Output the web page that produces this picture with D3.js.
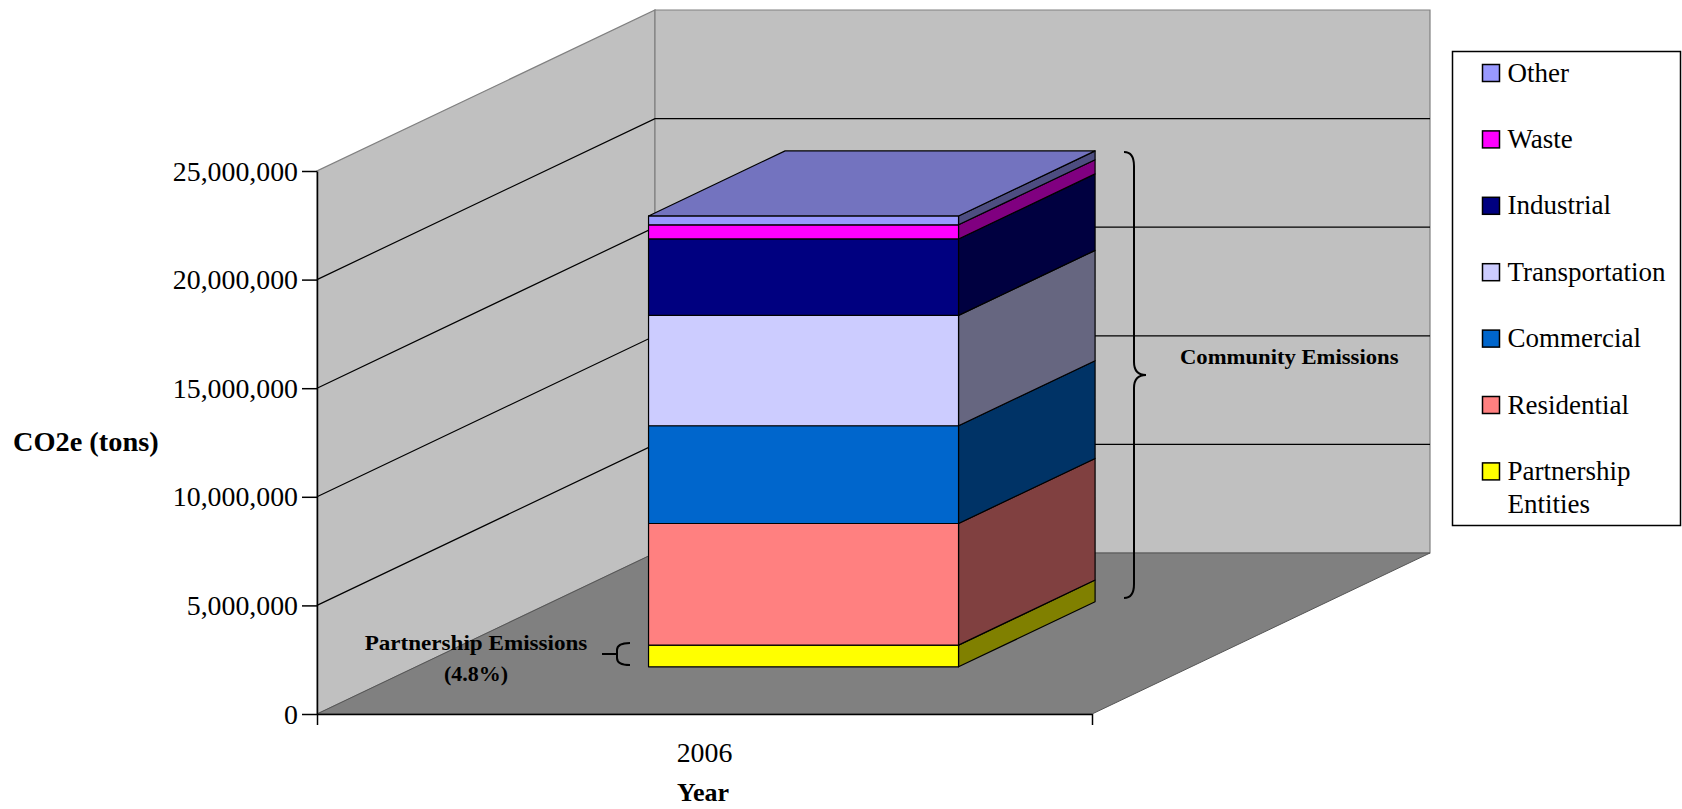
<!DOCTYPE html>
<html><head><meta charset="utf-8">
<script src="https://cdn.jsdelivr.net/npm/d3@7"></script>
<style>
body{margin:0;background:#fff}
svg{display:block}
text{font-family:"Liberation Serif","Times New Roman",serif;fill:#000}
</style>
</head><body>
<svg id="c" width="1682" height="809"></svg>
<script>
// ---- data ----
const categories = ["2006"];
const seriesNames = ["Partnership Entities","Residential","Commercial","Transportation","Industrial","Waste","Other"];
const seriesValues = [1000000, 5600000, 4500000, 5080000, 3520000, 650000, 410000];
const seriesColors = ["#ffff00","#ff8080","#0066cc","#ccccff","#000080","#ff00ff","#9999ff"];
const yTicks = [0, 5000000, 10000000, 15000000, 20000000, 25000000];
const legendOrder = ["Other","Waste","Industrial","Transportation","Commercial","Residential","Partnership Entities"];
const legendLines = {"Partnership Entities":["Partnership","Entities"]};
const yTitle = "CO2e (tons)";
const xTitle = "Year";
const communityLabel = "Community Emissions";
const partnershipLabel = ["Partnership Emissions","(4.8%)"];

// ---- layout ----
const svg = d3.select("#c");
const X0 = 317, X1 = 1092;
const DX = 338, DY = -161;          // depth offset of the back wall
const barDepth = [0.293, 0.697];    // bar front/back as fraction of depth

const y = d3.scaleLinear().domain([0, 25000000]).range([714, 171]);
const x = d3.scaleBand().domain(categories).range([X0, X1]).paddingInner(0).paddingOuter(0.75);
const P = (px, py, d) => [px + d * DX, py + d * DY];
const poly = pts => "M" + pts.map(p => p.join(",")).join("L") + "Z";
const shade = (c, k) => { const r = d3.rgb(c); return d3.rgb(r.r * k, r.g * k, r.b * k).formatHex(); };
const fit = (sel, f) => sel.each(function(){ const w = this.getComputedTextLength(); d3.select(this).attr("textLength", w * f).attr("lengthAdjust", "spacingAndGlyphs"); });

const yMax = y.domain()[1];
// walls
svg.append("path").attr("d", poly([P(X0,y(0),0),P(X0,y(yMax),0),P(X0,y(yMax),1),P(X0,y(0),1)]))
  .attr("fill","#c0c0c0").attr("stroke","#808080").attr("stroke-width",1.2);
svg.append("path").attr("d", poly([P(X0,y(yMax),1),P(X1,y(yMax),1),P(X1,y(0),1),P(X0,y(0),1)]))
  .attr("fill","#c0c0c0").attr("stroke","#808080").attr("stroke-width",1.2);
// floor
svg.append("path").attr("d", poly([P(X0,y(0),0),P(X1,y(0),0),P(X1,y(0),1),P(X0,y(0),1)]))
  .attr("fill","#808080").attr("stroke","#555").attr("stroke-width",1);
// gridlines
svg.append("g").selectAll("path").data(yTicks.filter(t => t > 0 && t < yMax)).join("path")
  .attr("d", t => "M" + [P(X0,y(t),0),P(X0,y(t),1),P(X1,y(t),1)].map(p=>p.join(",")).join("L"))
  .attr("fill","none").attr("stroke","#000").attr("stroke-width",1.2);

// bar
const row = {cat: categories[0]};
seriesNames.forEach((s,i) => row[s] = seriesValues[i]);
const stacked = d3.stack().keys(seriesNames)([row]);
const bx0 = x(categories[0]), bx1 = bx0 + x.bandwidth();
const [dA, dB] = barDepth;
const gBar = svg.append("g").attr("stroke","#000").attr("stroke-width",1.2).attr("stroke-linejoin","round");
stacked.forEach((layer, i) => {
  const [v0, v1] = layer[0];
  const c = seriesColors[i];
  gBar.append("path").attr("fill", shade(c,0.5))
    .attr("d", poly([P(bx1,y(v0),dA),P(bx1,y(v0),dB),P(bx1,y(v1),dB),P(bx1,y(v1),dA)]));
  gBar.append("path").attr("fill", c)
    .attr("d", poly([P(bx0,y(v0),dA),P(bx1,y(v0),dA),P(bx1,y(v1),dA),P(bx0,y(v1),dA)]));
  if (i === stacked.length - 1) {
    gBar.append("path").attr("fill", shade(c,0.75))
      .attr("d", poly([P(bx0,y(v1),dA),P(bx1,y(v1),dA),P(bx1,y(v1),dB),P(bx0,y(v1),dB)]));
  }
});

// y axis
const gy = svg.append("g").attr("transform",`translate(${X0},0)`)
  .call(d3.axisLeft(y).tickValues(yTicks).tickFormat(d3.format(",")).tickSize(15).tickSizeOuter(0).tickPadding(4));
gy.selectAll("line,path").attr("stroke","#000").attr("stroke-width",1.5);
gy.selectAll("text").attr("font-family",null).style("font-size","27px").attr("dy","0.34em").call(fit, 1.03);
gy.attr("font-family",null);

// x axis (boundary ticks + category label)
const xb = d3.scaleLinear().domain([0,1]).range([X0, X1]);
const gx = svg.append("g").attr("transform",`translate(0,${y(0)})`)
  .call(d3.axisBottom(xb).tickValues([0,1]).tickFormat("").tickSize(11).tickSizeOuter(0));
gx.selectAll("line,path").attr("stroke","#000").attr("stroke-width",1.5);
const gxc = svg.append("g").attr("transform",`translate(0,${y(0)})`)
  .call(d3.axisBottom(x).tickSize(0));
gxc.select(".domain").remove();
gxc.attr("font-family",null);
gxc.selectAll("text").attr("y",48).attr("dy",0).style("font-size","27px").call(fit, 1.03);

// axis titles
svg.append("text").attr("x", 703).attr("y", 801).attr("text-anchor","middle")
  .style("font-size","26px").style("font-weight","bold").text(xTitle);
svg.append("text").attr("x", 13).attr("y", 451)
  .style("font-size","27px").style("font-weight","bold").text(yTitle).call(fit, 1.05);

// annotations
svg.append("text").attr("x", 1180).attr("y", 364)
  .style("font-size","22px").style("font-weight","bold").text(communityLabel).call(fit, 1.03);
svg.append("path").attr("fill","none").attr("stroke","#000").attr("stroke-width",2)
  .attr("d","M1124,152 Q1134,152 1134,166 L1134,362 Q1134,375 1146,375 Q1134,375 1134,388 L1134,584 Q1134,598 1124,598");
const pl = svg.append("text").attr("text-anchor","middle").style("font-size","22px").style("font-weight","bold");
pl.append("tspan").attr("x",476).attr("y",650).text(partnershipLabel[0]);
pl.append("tspan").attr("x",476).attr("y",681).text(partnershipLabel[1]);
pl.select("tspan").call(fit, 1.05);
svg.append("path").attr("fill","none").attr("stroke","#000").attr("stroke-width",2)
  .attr("d","M630,643 Q617,643 617,650 L617,658 Q617,665 630,665 M602,654 L617,654");

// legend
const lg = svg.append("g");
lg.append("rect").attr("x",1452.5).attr("y",51.5).attr("width",228).attr("height",474)
  .attr("fill","#fff").attr("stroke","#000").attr("stroke-width",1.5);
legendOrder.forEach((name, i) => {
  const top = 64.5 + i * 66.4;
  const c = seriesColors[seriesNames.indexOf(name)];
  lg.append("rect").attr("x",1482.5).attr("y",top).attr("width",17).attr("height",17)
    .attr("fill",c).attr("stroke","#000").attr("stroke-width",1.5);
  const lines = legendLines[name] || [name];
  const t = lg.append("text").style("font-size","27px");
  lines.forEach((ln, j) => t.append("tspan").attr("x",1507.5).attr("y", top + 17 + j * 33).text(ln));
});
</script>
</body></html>
